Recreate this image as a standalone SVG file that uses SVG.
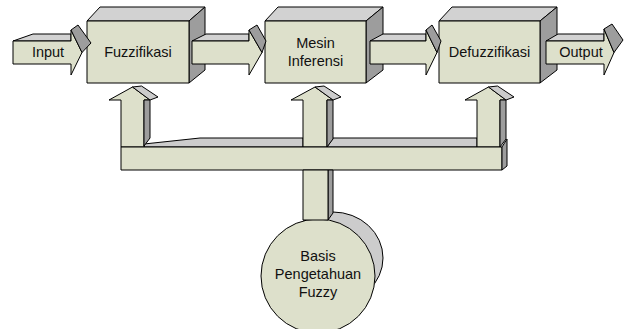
<svg xmlns="http://www.w3.org/2000/svg" width="628" height="329" viewBox="0 0 628 329">
<style>
.f{fill:#dde0cb;stroke:#000;stroke-width:1;stroke-linejoin:round}
.t{fill:#d2d2d2;stroke:#000;stroke-width:1;stroke-linejoin:round}
.s{fill:#9d9d9d;stroke:#000;stroke-width:1;stroke-linejoin:round}
.b{fill:#cccccc;stroke:#000;stroke-width:1;stroke-linejoin:round}
text{font-family:"Liberation Sans",Arial,sans-serif;font-size:14.5px;fill:#111;text-anchor:middle}
</style>
<rect width="628" height="329" fill="#fff"/>
<g id="fuzzifikasi">
<polygon class="t" points="87,21 100,7 205,7 189,21"/>
<polygon class="s" points="189,21 205,7 205,70 189,83"/>
<rect class="f" x="87" y="21" width="102" height="62"/>
<text x="138" y="57">Fuzzifikasi</text>
</g>
<g id="mesin-inferensi">
<polygon class="t" points="265,21 278,7 383,7 366,21"/>
<polygon class="s" points="366,21 383,7 383,70 366,83"/>
<rect class="f" x="265" y="21" width="101" height="62"/>
<text x="315.5" y="48">Mesin</text>
<text x="315.5" y="66">Inferensi</text>
</g>
<g id="defuzzifikasi">
<polygon class="t" points="439,21 452,7 557,7 540,21"/>
<polygon class="s" points="540,21 557,7 557,70 540,83"/>
<rect class="f" x="439" y="21" width="101" height="62"/>
<text x="489.5" y="57">Defuzzifikasi</text>
</g>
<g id="basis-pengetahuan">
<ellipse cx="333" cy="258" rx="50" ry="46" class="b"/>
<circle cx="318" cy="276" r="57" class="f"/>
<text x="318" y="261">Basis</text>
<text x="318" y="279">Pengetahuan</text>
<text x="318" y="297">Fuzzy</text>
</g>
<g id="connectors">
<g id="input-arrow">
<polygon class="t" points="13,41 33,34 71,34 71,41"/>
<path class="f" d="M13,41 H71 V30 L82,52.5 L71,75 V64 H13 Z"/>
<polygon class="s" points="71,30 78,25 91,43 82,52.5"/>
<text x="48" y="57">Input</text>
</g>
<g id="arrow-1">
<polygon class="t" points="192,41 206,34 249,34 249,41"/>
<path class="f" d="M192,41 H249 V30 L262,52.5 L249,75 V64 H192 Z"/>
<polygon class="s" points="249,30 257,25 266,41 262,52.5"/>
</g>
<g id="arrow-2">
<polygon class="t" points="370,41 383,34 426,34 426,41"/>
<path class="f" d="M370,41 H426 V30 L437,52.5 L426,75 V64 H370 Z"/>
<polygon class="s" points="426,30 432,25 441,41 437,52.5"/>
</g>
<g id="output-arrow">
<polygon class="t" points="546,41 558,34 604,34 604,41"/>
<path class="f" d="M546,41 H604 V29 L614,52.5 L604,75 V64 H546 Z"/>
<polygon class="s" points="604,29 612,24 623,40 614,52.5"/>
<text x="581" y="57">Output</text>
</g>
<g id="bus">
<polygon class="b" points="144,147 144,144 200,138 303,138 303,147"/>
<polygon class="b" points="327,147 333,138 477,138 477,147"/>
<path class="f" d="M121,147 V100 H109 L132.5,87 L150,100 H144 V147 Z"/>
<polygon class="s" points="144,100 150,100 150,138 144,146"/>
<polygon class="b" points="132.5,87 141.5,86 158,97 150,100"/>
<path class="f" d="M303,147 V100 H291 L315,87 L333,100 H327 V147 Z"/>
<polygon class="s" points="327,100 333,100 333,139 327,147"/>
<polygon class="b" points="315,87 324,86 341,97 333,100"/>
<path class="f" d="M477,147 V100 H465 L488.5,87 L506,100 H500 V147 Z"/>
<polygon class="s" points="500,100 506,100 506,139 500,147"/>
<polygon class="b" points="488.5,87 497.5,86 514,97 506,100"/>
<rect class="f" x="121" y="147" width="381" height="23"/>
<polygon class="s" points="502,147 507,139 507,166 502,170"/>
<polygon class="s" points="328,170 333,170 333,213 328,220"/>
<rect class="f" x="303" y="170" width="25" height="50"/>
</g>
</g>
</svg>
